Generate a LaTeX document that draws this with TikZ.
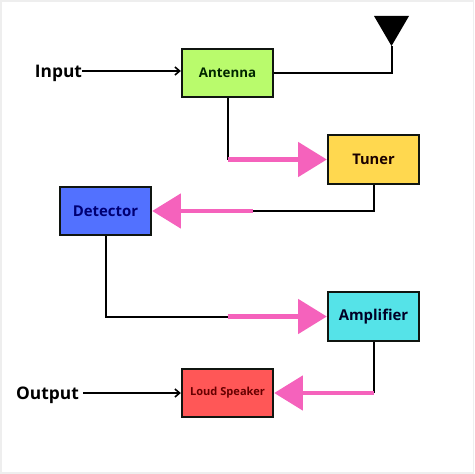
\documentclass[tikz,border=0pt]{standalone}
\usepackage{fontspec}
\setmainfont{Open Sans}
\usetikzlibrary{arrows.meta,calc}
\definecolor{Edge}{HTML}{101510}
\definecolor{Frame}{HTML}{EEEEEE}
\definecolor{Lime}{HTML}{B9FB6C}
\definecolor{Sun}{HTML}{FFD84F}
\definecolor{Royal}{HTML}{5271FF}
\definecolor{Aqua}{HTML}{55E3E8}
\definecolor{Coral}{HTML}{FF5757}
\definecolor{Pink}{HTML}{F562BC}
\tikzset{
 block/.style={draw=Edge, line width=1.5pt, minimum width=68.5pt, minimum height=36.5pt, inner sep=0pt, align=center, font=\bfseries\fontsize{10}{12}\selectfont},
 limeblock/.style={block, fill=Lime, text=black!85!green},
 sunblock/.style={block, fill=Sun, text=black!90!red, font=\bfseries\fontsize{11}{13}\selectfont},
 royalblock/.style={block, fill=Royal, text=blue!45!black, font=\bfseries\fontsize{11.2}{13}\selectfont},
 aquablock/.style={block, fill=Aqua, text=black!85!blue, font=\bfseries\fontsize{11.2}{13}\selectfont},
 coralblock/.style={block, fill=Coral, text=red!40!black, font=\bfseries\fontsize{8.3}{10}\selectfont},
 label/.style={inner sep=0pt, text depth=0pt, font=\bfseries\fontsize{13}{15}\selectfont},
 wire/.style={draw=black, line width=1.5pt},
 thinarrow/.style={-{Straight Barb[length=3.5pt,width=6pt]}, draw=black, line width=1.2pt},
 pinkarrow/.style={-{Triangle[length=21.5pt,width=25.5pt]}, draw=Pink, line width=3.4pt}
}
\begin{document}
\begin{tikzpicture}[x=0.75pt,y=-0.75pt]
\useasboundingbox (0,0) rectangle (474,474);
\fill[Frame] (0,0) rectangle (474,474);
\fill[white] (2,2) rectangle (473,472);
% blocks
\node[limeblock] (antenna) at (227.5,73) {Antenna};
\node[sunblock] (tuner) at (373.5,159.5) {Tuner};
\node[royalblock] (detector) at (105.5,211) {Detector};
\node[aquablock] (amplifier) at (373.5,316.5) {Amplifier};
\node[coralblock] (speaker) at (227.5,393) {Loud Speaker};
\node[label] (input) at (58.5,71) {Input};
\node[label] (output) at (47.5,393) {Output};
% aerial
\coordinate (aerial) at (391.5,46);
\fill[black] (aerial) -- (374,16) -- (409,16) -- cycle;
% bends where black turns pink
\coordinate (tunerbend) at (antenna.south |- tuner.west);
\coordinate (detectorbend) at (253,211);
\coordinate (amplifierbend) at (antenna.south |- amplifier.west);
\coordinate (speakerbend) at (tuner.south |- speaker.east);
% connectors
\draw[thinarrow] (input.east) -- (input.east -| antenna.west);
\draw[thinarrow,shorten <=3pt] (output.east) -- (speaker.west);
\draw[wire] (antenna.east) -| (aerial);
\draw[wire] (antenna.south) -- (tunerbend);
\draw[pinkarrow] (tunerbend) -- (tuner.west);
\draw[wire] (tuner.south) |- (detectorbend);
\draw[pinkarrow] (detectorbend) -- (detector.east);
\draw[wire] (detector.south) |- (amplifierbend);
\draw[pinkarrow] (amplifierbend) -- (amplifier.west);
\draw[wire] (amplifier.south) -- (speakerbend);
\draw[pinkarrow] (speakerbend) -- (speaker.east);
\end{tikzpicture}
\end{document}
